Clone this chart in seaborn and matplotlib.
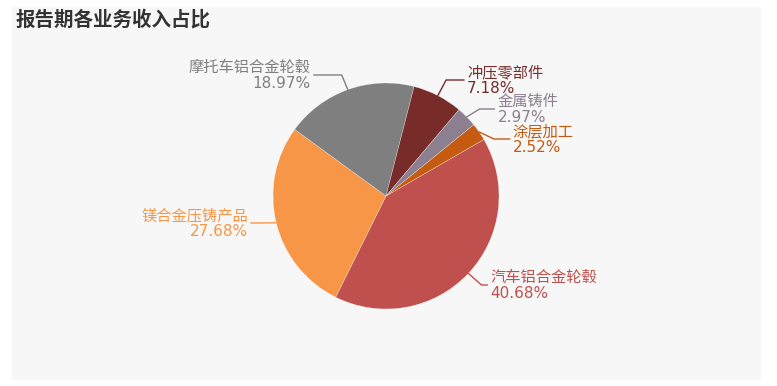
import numpy as np
import matplotlib
matplotlib.use("Agg")
import matplotlib.pyplot as plt
import seaborn as sns
from matplotlib.patches import Rectangle

names = ['汽车铝合金轮毂', '镁合金压铸产品', '摩托车铝合金轮毂', '冲压零部件', '金属铸件', '涂层加工']
values = [40.68, 27.68, 18.97, 7.18, 2.97, 2.52]
colors = ['#c0504d', '#f79646', '#7f7f7f', '#772c2a', '#8c7f8f', '#c55a11']
title = '报告期各业务收入占比'

# label line heights (pixel rows) and horizontal leader lengths
line_y = [285, 223, 75, 80, 109, 139]
seg2 = [6, 8, 28, 18, 15, 16]

sns.set_style("white")
plt.rcParams['font.family'] = ['DejaVu Sans', 'Noto Sans CJK SC']

W, H = 777, 386
fig = plt.figure(figsize=(W / 100, H / 100), dpi=100)
fig.patch.set_facecolor('white')
ax = fig.add_axes([0, 0, 1, 1])

ax.add_patch(Rectangle((12, 7), 749, 373, facecolor='#f7f7f7', edgecolor='none', zorder=0))

cx, cy, R = 386, 196, 113
wedges, _ = ax.pie(values, colors=sns.color_palette(colors), center=(cx, cy), radius=R,
                   startangle=-30, counterclock=True,
                   wedgeprops=dict(linewidth=0.2, edgecolor='#f7f7f7'))

for w, name, v, c, ly, s2 in zip(wedges, names, values, colors, line_y, seg2):
    th = np.deg2rad((w.theta1 + w.theta2) / 2)
    ax_, ay_ = cx + R * np.cos(th), cy + R * np.sin(th)
    ex = cx + (R + 18) * np.cos(th)
    right = np.cos(th) > 0
    sx = ex + s2 if right else ex - s2
    ax.plot([ax_, ex, sx], [ay_, ly, ly], color=c, lw=1, zorder=3)
    tx = sx + 3 if right else sx - 3
    ha = 'left' if right else 'right'
    ax.text(tx, ly - 7.5, name, ha=ha, va='center', fontsize=11, color=c)
    ax.text(tx, ly + 8.5, f'{v:.2f}%', ha=ha, va='center', fontsize=11, color=c)

ax.text(16, 20, title, ha='left', va='center', fontsize=14, fontweight='bold',
        color='#333333', family=['Noto Sans CJK SC', 'DejaVu Sans'])

ax.set_xlim(0, W)
ax.set_ylim(H, 0)
ax.set_aspect('equal')
ax.axis('off')

fig.savefig('out.png', dpi=100, facecolor='white')
